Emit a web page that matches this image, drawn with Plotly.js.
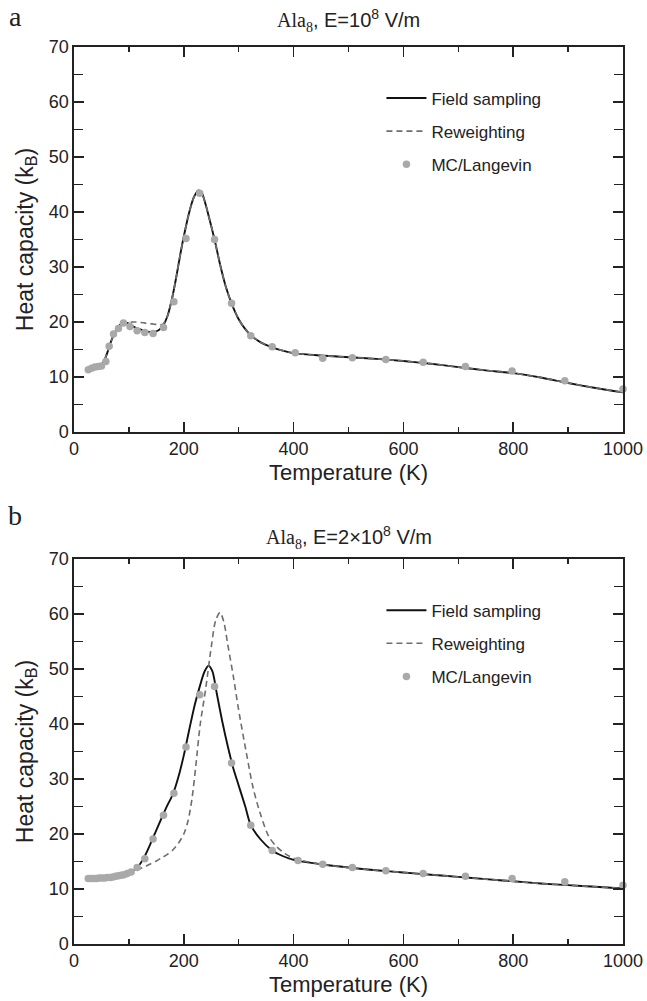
<!DOCTYPE html>
<html>
<head>
<meta charset="utf-8">
<script src="https://cdn.plot.ly/plotly-3.0.1.min.js"></script>
<style>html,body{margin:0;padding:0;background:#fff;}#chart{width:647px;height:1001px;}</style>
</head>
<body>
<div id="chart"></div>
<script>
// ---------- Panel a : E = 1e8 V/m ----------
var tFieldA = [25,40,50,56,62,68,75,82,90,98,106,114,122,130,138,146,154,162,170,178,186,194,202,210,218,226,232,238,246,256,266,276,287,300,312,322,340,361,380,403,450,500,550,600,650,700,750,800,850,900,950,1000];
var cFieldA = [11.3,11.9,12.3,13.2,14.8,16.6,18.2,19.3,19.9,19.8,19.3,18.9,18.6,18.3,18.2,18.2,18.5,19.3,21.0,24.0,28.0,32.5,36.5,40.0,42.6,43.9,43.6,42.0,39.0,35.0,30.5,26.6,23.4,20.5,18.7,17.6,16.3,15.4,14.8,14.3,13.9,13.6,13.3,12.9,12.4,11.8,11.2,10.7,9.9,8.9,8.0,7.2];
var tReweightA = [25,40,50,56,62,68,75,82,90,98,106,114,122,130,138,146,154,162,170,178,186,194,202,210,218,226,232,238,246,256,266,276,287,300,312,322,340,361,380,403,450,500,550,600,650,700,750,800,850,900,950,1000];
var cReweightA = [11.3,11.9,12.3,13.2,14.8,16.6,18.2,19.3,19.9,19.9,20.0,20.0,19.9,19.8,19.7,19.6,19.5,19.6,21.0,24.0,28.0,32.5,36.5,40.0,42.6,43.9,43.6,42.0,39.0,35.0,30.5,26.6,23.4,20.5,18.7,17.6,16.3,15.4,14.8,14.3,13.9,13.6,13.3,12.9,12.4,11.8,11.2,10.7,9.9,8.9,8.0,7.2];
var tMCA = [26,32,38,44,50,58,64,72,81,90,102,115,129,144,163,182,204,229,256,287,322,361,403,453,507,568,636,713,798,894,1000];
var cMCA = [11.3,11.6,11.8,11.9,12.0,12.8,15.6,17.8,18.8,19.8,19.2,18.4,18.1,17.9,19.0,23.7,35.2,43.4,35.0,23.4,17.5,15.5,14.4,13.4,13.5,13.2,12.7,11.9,11.1,9.3,7.8];

// ---------- Panel b : E = 2e8 V/m ----------
var tFieldB = [25,40,55,70,85,100,110,120,130,140,150,160,170,180,190,200,210,220,229,238,245,252,260,270,280,290,300,312,322,340,361,380,400,450,500,550,600,650,700,750,800,850,900,950,1000];
var cFieldB = [11.9,12.0,12.1,12.3,12.6,13.0,13.5,14.5,16.2,18.4,20.7,23.0,25.2,27.2,30.3,34.3,39.0,43.5,46.8,49.6,50.6,49.6,45.6,40.5,36.0,32.0,28.8,25.0,21.6,19.0,17.0,16.0,15.3,14.5,13.9,13.4,13.0,12.6,12.2,11.8,11.4,11.0,10.7,10.4,10.1];
var tReweightB = [25,40,55,70,85,100,110,120,130,140,150,160,170,180,190,200,208,215,222,230,240,250,258,266,273,280,290,300,314,326,339,355,369,385,400,450,500,550,600,650,700,750,800,850,900,950,1000];
var cReweightB = [11.9,12.0,12.1,12.3,12.6,13.0,13.3,13.7,14.1,14.6,15.1,15.7,16.3,17.1,18.3,20.0,22.5,26.5,32.5,40.0,46.5,54.0,58.8,60.3,58.5,54.5,48.8,42.5,34.7,28.5,23.8,19.5,17.7,16.4,15.6,14.5,13.9,13.4,13.0,12.6,12.2,11.8,11.4,11.0,10.7,10.4,10.1];
var tMCB = [26,31,36,41,46,51,56,61,66,71,76,81,86,91,97,104,115,129,144,163,182,204,229,256,287,322,361,408,453,507,568,636,713,798,894,1000];
var cMCB = [11.9,11.9,11.9,11.9,12.0,12.0,12.0,12.1,12.1,12.2,12.3,12.4,12.5,12.6,12.8,13.1,13.9,15.5,19.1,23.4,27.4,35.8,45.3,46.8,32.9,21.6,17.0,15.2,14.5,13.9,13.3,12.8,12.3,11.9,11.3,10.7];

var seriesNames = ['Field sampling', 'Reweighting', 'MC/Langevin'];
var xTickVals = [0,200,400,600,800,1000];
var yTickVals = [0,10,20,30,40,50,60,70];

var SANS = 'Liberation Sans, Arial, Helvetica, sans-serif';
var SERIF = 'Liberation Serif, Times New Roman, serif';

function mk(tx, cy, kind, xa, ya, leg) {
  var base = {x: tx, y: cy, xaxis: xa, yaxis: ya, legend: leg, showlegend: true, hoverinfo: 'skip'};
  if (kind === 0) {
    base.name = seriesNames[0]; base.mode = 'lines'; base.legendgroup = 'g0' + leg; base.legendrank = 1;
    base.line = {color: '#111111', width: 1.9, shape: 'spline', smoothing: 0.8};
  } else if (kind === 1) {
    base.name = seriesNames[1]; base.mode = 'lines'; base.legendgroup = 'g1' + leg; base.legendrank = 2;
    base.line = {color: '#6e6e6e', width: 1.6, dash: '6px,4px', shape: 'spline', smoothing: 0.8};
  } else {
    base.name = seriesNames[2]; base.mode = 'markers'; base.legendgroup = 'g2' + leg; base.legendrank = 3;
    base.marker = {color: '#a9a9a9', size: 7.5, line: {width: 0}};
    base.cliponaxis = false;
  }
  return base;
}

var traces = [
  mk(tFieldA, cFieldA, 0, 'x', 'y', 'legend'),
  mk(tReweightA, cReweightA, 1, 'x', 'y', 'legend'),
  mk(tMCA, cMCA, 2, 'x', 'y', 'legend'),
  mk(tFieldB, cFieldB, 0, 'x2', 'y2', 'legend2'),
  mk(tReweightB, cReweightB, 1, 'x2', 'y2', 'legend2'),
  mk(tMCB, cMCB, 2, 'x2', 'y2', 'legend2')
];

function xAxis(anchor) {
  return {
    anchor: anchor, domain: [0, 1], range: [0, 1000], tickvals: xTickVals,
    ticks: 'inside', ticklen: 10, tickwidth: 1.5, tickcolor: '#222',
    minor: {dtick: 100, tick0: 0, ticks: 'inside', ticklen: 5, tickwidth: 1.5, tickcolor: '#222'},
    showline: true, linecolor: '#222', linewidth: 1.6, mirror: 'ticks',
    showgrid: false, zeroline: false,
    tickfont: {family: SANS, size: 18, color: '#222'},
    title: {text: 'Temperature (K)', font: {family: SANS, size: 22, color: '#222'}, standoff: 6}
  };
}
function yAxis(anchor, dom) {
  return {
    anchor: anchor, domain: dom, range: [0, 70], tickvals: yTickVals,
    ticks: 'inside', ticklen: 10, tickwidth: 1.5, tickcolor: '#222',
    minor: {dtick: 5, tick0: 0, ticks: 'inside', ticklen: 9, tickwidth: 1.5, tickcolor: '#222'},
    showline: true, linecolor: '#222', linewidth: 1.6, mirror: 'ticks',
    showgrid: false, zeroline: false,
    tickfont: {family: SANS, size: 18, color: '#222'},
    title: {text: 'Heat capacity (k<sub>B</sub>)', font: {family: SANS, size: 23, color: '#222'}, standoff: 9}
  };
}

function legendCfg(ytop) {
  return {
    x: 0.56, xanchor: 'left', y: ytop, yanchor: 'top',
    bgcolor: 'rgba(0,0,0,0)', borderwidth: 0,
    font: {family: SANS, size: 17, color: '#222'},
    tracegroupgap: 8, itemwidth: 40, traceorder: 'grouped'
  };
}

var titleA = '<span style="font-family:Liberation Serif">Ala<sub>8</sub></span>, E=10<sup>8</sup> V/m';
var titleB = '<span style="font-family:Liberation Serif">Ala<sub>8</sub></span>, E=2×10<sup>8</sup> V/m';

var layout = {
  width: 647, height: 1001,
  margin: {l: 74, r: 24, t: 47, b: 57},
  paper_bgcolor: '#ffffff', plot_bgcolor: '#ffffff',
  showlegend: true,
  xaxis: xAxis('y'),
  yaxis: yAxis('x', [0.5708, 1]),
  xaxis2: xAxis('y2'),
  yaxis2: yAxis('x2', [0, 0.4292]),
  legend: legendCfg(0.9627),
  legend2: legendCfg(0.3917),
  annotations: [
    {text: titleA, xref: 'paper', yref: 'paper', x: 0.5, y: 1.03, xanchor: 'center', yanchor: 'middle', showarrow: false, font: {family: SANS, size: 20, color: '#222'}},
    {text: titleB, xref: 'paper', yref: 'paper', x: 0.5, y: 0.4535, xanchor: 'center', yanchor: 'middle', showarrow: false, font: {family: SANS, size: 20, color: '#222'}},
    {text: 'a', xref: 'paper', yref: 'paper', x: -0.107, y: 1.034, xanchor: 'center', yanchor: 'middle', showarrow: false, font: {family: SERIF, size: 28, color: '#222'}},
    {text: 'b', xref: 'paper', yref: 'paper', x: -0.107, y: 0.478, xanchor: 'center', yanchor: 'middle', showarrow: false, font: {family: SERIF, size: 28, color: '#222'}}
  ]
};

Plotly.newPlot('chart', traces, layout, {staticPlot: true, displayModeBar: false});
</script>
</body>
</html>
